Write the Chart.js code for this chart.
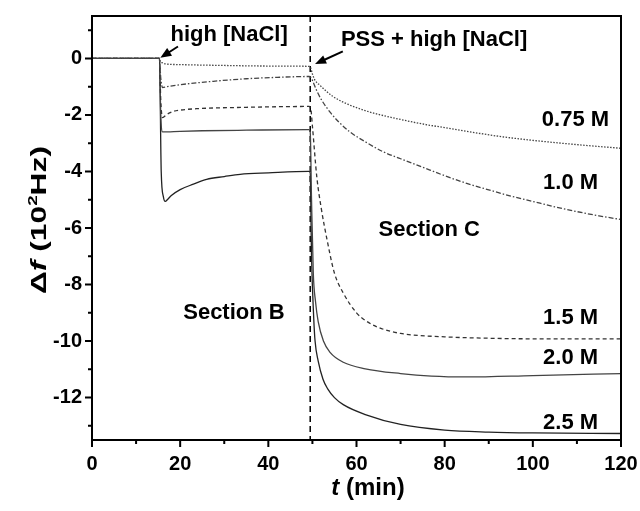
<!DOCTYPE html>
<html>
<head>
<meta charset="utf-8">
<script src="https://cdn.jsdelivr.net/npm/chart.js@4.4.1/dist/chart.umd.min.js"></script>
<style>
  html, body { margin: 0; padding: 0; background: #fff; }
  #wrap { width: 640px; height: 511px; }
</style>
</head>
<body>
<div id="wrap"><canvas id="qcm" width="640" height="511"></canvas></div>
<script>
// time (min) and frequency shift (10^2 Hz) per NaCl concentration
const t075 = [0, 15.3, 15.5, 16, 17, 20, 30, 40, 49.2, 49.5, 50, 50.5, 51.7, 54.7, 58, 62, 66, 70, 75, 80, 85, 92.5, 100, 110, 120];
const f075 = [0, 0, -0.1, -0.16, -0.2, -0.22, -0.25, -0.27, -0.28, -0.3, -0.55, -0.75, -0.95, -1.35, -1.62, -1.85, -2.02, -2.16, -2.32, -2.45, -2.58, -2.76, -2.9, -3.05, -3.18];

const t10 = [0, 15.3, 15.6, 16, 17, 20, 27.5, 35, 42, 49.2, 49.7, 50.2, 51, 52, 54, 56, 58.5, 62, 66, 70, 75, 80, 85, 90, 95, 100, 105, 110, 115, 120];
const f10 = [0, 0, -0.7, -1.03, -1.0, -0.93, -0.81, -0.72, -0.67, -0.64, -0.68, -0.85, -1.15, -1.45, -1.9, -2.25, -2.6, -2.95, -3.3, -3.55, -3.85, -4.15, -4.42, -4.65, -4.87, -5.06, -5.25, -5.42, -5.57, -5.7];

const t15 = [0, 15.3, 15.6, 16, 17, 18.4, 20, 23.7, 35, 49.2, 49.6, 50, 51, 52, 53.3, 55, 57, 60, 62.3, 65, 70, 80, 90, 100, 120];
const f15 = [0, 0, -1.5, -2.09, -1.98, -1.88, -1.83, -1.78, -1.73, -1.7, -1.75, -2.4, -4.2, -5.3, -6.4, -7.6, -8.3, -9.0, -9.3, -9.52, -9.73, -9.85, -9.9, -9.92, -9.92];

const t20 = [0, 15.3, 15.6, 16, 20, 25, 35, 49.2, 49.5, 49.8, 50.2, 50.7, 51.3, 52.5, 54, 57, 62, 70, 77, 85, 100, 120];
const f20 = [0, 0, -2.0, -2.6, -2.58, -2.56, -2.54, -2.52, -2.6, -5.0, -7.6, -8.6, -9.3, -10.0, -10.4, -10.75, -10.98, -11.15, -11.24, -11.27, -11.22, -11.15];

const t25 = [0, 15.3, 15.7, 16.2, 16.6, 17.2, 18, 20, 23, 26, 30, 33.6, 40, 49.2, 49.5, 49.8, 50.3, 50.6, 51.3, 52.4, 53.5, 55, 57, 62, 70, 80, 90, 100, 120];
const f25 = [0, 0, -4.0, -4.9, -5.06, -4.98, -4.85, -4.64, -4.45, -4.28, -4.18, -4.1, -4.05, -4.0, -4.05, -7.0, -9.2, -10.0, -10.7, -11.35, -11.7, -12.0, -12.25, -12.6, -12.95, -13.15, -13.22, -13.25, -13.27];

// PSS injection time
const injectT = [49.5, 49.5];
const injectF = [1.5, -13.5];

const xTicks = [0, 20, 40, 60, 80, 100, 120];
const xMinor = [10, 30, 50, 70, 90, 110];
const yTicks = [0, -2, -4, -6, -8, -10, -12];
const yMinor = [1, -1, -3, -5, -7, -9, -11, -13];

const seriesLabels = ['0.75 M', '1.0 M', '1.5 M', '2.0 M', '2.5 M'];

const FONT = "'Liberation Sans', Arial, sans-serif";

function pts(ts, fs) {
  return ts.map((t, i) => ({ x: t, y: fs[i] }));
}

function curve(label, ts, fs, dash, color) {
  return {
    label: label,
    data: pts(ts, fs),
    showLine: true,
    borderColor: color,
    borderWidth: 1.3,
    borderDash: dash,
    pointRadius: 0,
    cubicInterpolationMode: 'monotone',
    fill: false
  };
}

// frame, outward ticks, titles and annotations
const decor = {
  id: 'decor',
  afterDraw(chart) {
    const { ctx, chartArea: a, scales } = chart;
    const xs = scales.x, ys = scales.y;
    ctx.save();
    ctx.strokeStyle = '#000';
    ctx.lineWidth = 2;
    ctx.strokeRect(a.left, a.top, a.right - a.left, a.bottom - a.top);

    ctx.beginPath();
    yTicks.forEach(v => { const y = ys.getPixelForValue(v); ctx.moveTo(a.left, y); ctx.lineTo(a.left - 7, y); });
    yMinor.forEach(v => { const y = ys.getPixelForValue(v); ctx.moveTo(a.left, y); ctx.lineTo(a.left - 4, y); });
    xTicks.forEach(v => { const x = xs.getPixelForValue(v); ctx.moveTo(x, a.bottom); ctx.lineTo(x, a.bottom + 7); });
    xMinor.forEach(v => { const x = xs.getPixelForValue(v); ctx.moveTo(x, a.bottom); ctx.lineTo(x, a.bottom + 4); });
    ctx.stroke();

    ctx.fillStyle = '#000';
    ctx.textBaseline = 'alphabetic';

    function runs(parts) {
      let w = 0;
      parts.forEach(p => { ctx.font = p[1]; w += ctx.measureText(p[0]).width; });
      return w;
    }
    function drawRuns(parts, x0, y0) {
      let x = x0;
      parts.forEach(p => {
        ctx.font = p[1];
        ctx.fillText(p[0], x, y0 + (p[2] || 0));
        x += ctx.measureText(p[0]).width;
      });
    }

    // x title
    const xt = [['t', 'italic bold 24px ' + FONT], [' (min)', 'bold 24px ' + FONT]];
    ctx.textAlign = 'left';
    drawRuns(xt, 368 - runs(xt) / 2, 495);

    // y title, stretched along its length like the original
    const yt = [['\u0394', 'bold 22px ' + FONT], ['f', 'italic bold 22px ' + FONT], [' (10', 'bold 22px ' + FONT],
                ['2', 'bold 13px ' + FONT, -9], ['Hz)', 'bold 22px ' + FONT]];
    const yw = runs(yt);
    const stretch = 148 / yw;
    ctx.save();
    ctx.translate(46, 220);
    ctx.rotate(-Math.PI / 2);
    ctx.scale(stretch, 1);
    drawRuns(yt, -yw / 2, 0);
    ctx.restore();

    // annotations in data coordinates (baseline positions)
    ctx.font = 'bold 22px ' + FONT;
    ctx.textBaseline = 'alphabetic';
    const label = (txt, t, f, align) => {
      ctx.textAlign = align;
      ctx.fillText(txt, xs.getPixelForValue(t), ys.getPixelForValue(f));
    };
    label('high [NaCl]', 31.1, 0.62, 'center');
    label('PSS + high [NaCl]', 77.6, 0.44, 'center');
    label('Section C', 76.5, -6.28, 'center');
    label('Section B', 32.2, -9.23, 'center');
    label(seriesLabels[0], 117.3, -2.39, 'right');
    label(seriesLabels[1], 114.8, -4.62, 'right');
    label(seriesLabels[2], 114.8, -9.39, 'right');
    label(seriesLabels[3], 114.8, -10.8, 'right');
    label(seriesLabels[4], 114.8, -13.1, 'right');

    const arrow = (t1, f1, t2, f2) => {
      const x1 = xs.getPixelForValue(t1), y1 = ys.getPixelForValue(f1);
      const x2 = xs.getPixelForValue(t2), y2 = ys.getPixelForValue(f2);
      const ang = Math.atan2(y2 - y1, x2 - x1);
      ctx.lineWidth = 2;
      ctx.beginPath();
      ctx.moveTo(x1, y1);
      ctx.lineTo(x2 - 8 * Math.cos(ang), y2 - 8 * Math.sin(ang));
      ctx.stroke();
      ctx.beginPath();
      ctx.moveTo(x2, y2);
      ctx.lineTo(x2 - 11 * Math.cos(ang) + 4.5 * Math.sin(ang), y2 - 11 * Math.sin(ang) - 4.5 * Math.cos(ang));
      ctx.lineTo(x2 - 11 * Math.cos(ang) - 4.5 * Math.sin(ang), y2 - 11 * Math.sin(ang) + 4.5 * Math.cos(ang));
      ctx.closePath();
      ctx.fill();
    };
    arrow(19.5, 0.42, 15.5, 0.02);
    arrow(56.9, 0.25, 50.6, -0.2);
    ctx.restore();
  }
};

new Chart(document.getElementById('qcm'), {
  type: 'scatter',
  data: {
    datasets: [
      curve(seriesLabels[0], t075, f075, [1.5, 1.5], '#444'),
      curve(seriesLabels[1], t10, f10, [5, 2, 1.5, 2], '#444'),
      curve(seriesLabels[2], t15, f15, [4, 3], '#333'),
      curve(seriesLabels[3], t20, f20, [], '#444'),
      curve(seriesLabels[4], t25, f25, [], '#222'),
      {
        label: 'PSS',
        data: pts(injectT, injectF),
        showLine: true,
        borderColor: '#000',
        borderWidth: 1.5,
        borderDash: [6, 4],
        pointRadius: 0,
        tension: 0
      }
    ]
  },
  options: {
    responsive: false,
    animation: false,
    devicePixelRatio: 1,
    layout: { padding: { left: 0, right: 19, top: 16, bottom: 0 } },
    plugins: { legend: { display: false }, tooltip: { enabled: false } },
    scales: {
      x: {
        type: 'linear',
        min: 0,
        max: 120,
        afterBuildTicks: s => { s.ticks = xTicks.map(v => ({ value: v })); },
        afterFit: s => { s.height = 71; s.paddingLeft = 0; s.paddingRight = 0; },
        grid: { display: false, drawTicks: false },
        border: { display: false },
        ticks: { color: '#000', padding: 12, maxRotation: 0, font: { family: FONT, size: 20, weight: 'bold' } }
      },
      y: {
        type: 'linear',
        min: -13.5,
        max: 1.5,
        afterBuildTicks: s => { s.ticks = yTicks.map(v => ({ value: v })); },
        afterFit: s => { s.width = 92; s.paddingTop = 0; s.paddingBottom = 0; },
        grid: { display: false, drawTicks: false },
        border: { display: false },
        ticks: { color: '#000', padding: 10, font: { family: FONT, size: 20, weight: 'bold' } }
      }
    }
  },
  plugins: [decor]
});
</script>
</body>
</html>
